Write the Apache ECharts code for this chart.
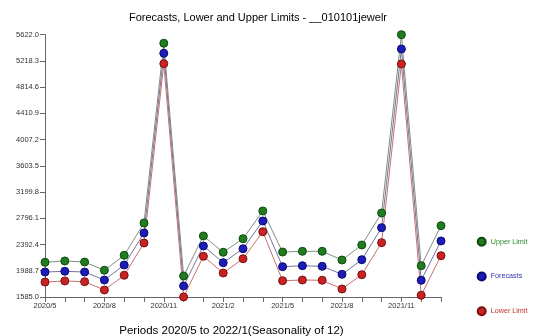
<!DOCTYPE html>
<html>
<head>
<meta charset="utf-8">
<script src="https://cdn.jsdelivr.net/npm/echarts@6/dist/echarts.min.js"></script>
<style>
  html, body { margin: 0; padding: 0; background: #fff; }
  #chart { width: 540px; height: 336px; }
</style>
</head>
<body>
<div id="chart"></div>
<script>
// Monthly periods, 2020/5 .. 2022/1
const periods = [
  '2020/5', '2020/6', '2020/7', '2020/8', '2020/9', '2020/10', '2020/11', '2020/12',
  '2021/1', '2021/2', '2021/3', '2021/4', '2021/5', '2021/6', '2021/7', '2021/8',
  '2021/9', '2021/10', '2021/11', '2021/12', '2022/1'
];

const upperLimit = [
  2118, 2138, 2122, 1995, 2226, 2723, 5490, 1907,
  2523, 2272, 2481, 2908, 2276, 2287, 2287, 2153,
  2384, 2877, 5622, 2065, 2681
];

const forecasts = [
  1968, 1979, 1968, 1845, 2076, 2569, 5336, 1753,
  2369, 2112, 2327, 2754, 2050, 2065, 2056, 1933,
  2158, 2651, 5402, 1841, 2446
];

const lowerLimit = [
  1814, 1830, 1819, 1691, 1918, 2415, 5176, 1585,
  2210, 1953, 2173, 2589, 1834, 1845, 1841, 1707,
  1927, 2420, 5171, 1610, 2219
];

// Value-axis tick positions (data min to data max in ten steps)
const yTicks = [1585.0, 1988.7, 2392.4, 2796.1, 3199.8, 3603.5, 4007.2, 4410.9, 4814.6, 5218.3, 5622.0];

const FONT = '"Liberation Sans", Arial, sans-serif';

function seriesOf(name, data, fill, border, lineColor) {
  return {
    name: name,
    type: 'line',
    data: data,
    symbol: 'circle',
    symbolSize: 8,
    itemStyle: { color: fill, borderColor: border, borderWidth: 1 },
    lineStyle: { color: lineColor, width: 1 },
    emphasis: { disabled: true },
    animation: false
  };
}

const chart = echarts.init(document.getElementById('chart'), null, { renderer: 'canvas' });

chart.setOption({
  backgroundColor: '#ffffff',
  title: [
    {
      text: 'Forecasts, Lower and Upper Limits - __010101jewelr',
      left: 253,
      textAlign: 'center',
      top: 7,
      textStyle: { fontFamily: FONT, fontSize: 11, fontWeight: 'normal', color: '#000' }
    },
    {
      text: 'Periods 2020/5 to 2022/1(Seasonality of 12)',
      left: 226.5,
      textAlign: 'center',
      top: 320,
      textStyle: { fontFamily: FONT, fontSize: 11.5, fontWeight: 'normal', color: '#000' }
    }
  ],
  legend: {
    orient: 'vertical',
    left: 476.7,
    top: 236.8,
    padding: 0,
    itemWidth: 8,
    itemHeight: 8,
    itemGap: 24.7,
    icon: 'circle',
    selectedMode: false,
    textStyle: { fontFamily: FONT, fontSize: 7.2 },
    data: [
      { name: 'Upper Limit', textStyle: { color: '#2f8a2f' } },
      { name: 'Forecasts', textStyle: { color: '#3030b0' } },
      { name: 'Lower Limit', textStyle: { color: '#c03030' } }
    ]
  },
  grid: { left: 45, right: 99, top: 34.7, bottom: 39.1, containLabel: false },
  xAxis: {
    type: 'category',
    data: periods,
    boundaryGap: false,
    axisLine: { lineStyle: { color: '#666', width: 1 } },
    axisTick: { show: true, interval: 0, length: 5, lineStyle: { color: '#666' } },
    axisLabel: { interval: 2, fontFamily: FONT, fontSize: 7.5, color: '#333', margin: 5 },
    splitLine: { show: false }
  },
  yAxis: {
    type: 'value',
    min: yTicks[0],
    max: yTicks[yTicks.length - 1],
    axisLine: { show: true, lineStyle: { color: '#666', width: 1 } },
    axisTick: { show: true, length: 5, customValues: yTicks, lineStyle: { color: '#666' } },
    axisLabel: {
      customValues: yTicks,
      formatter: function (v) { return Number(v).toFixed(1); },
      fontFamily: FONT, fontSize: 7.5, color: '#333', margin: 6
    },
    splitLine: { show: false }
  },
  series: [
    seriesOf('Upper Limit', upperLimit, '#1f7d1f', '#0f4a0f', '#7f8f7f'),
    seriesOf('Forecasts', forecasts, '#1c1cb8', '#0a0a70', '#7373a0'),
    seriesOf('Lower Limit', lowerLimit, '#c82222', '#7a1010', '#c87070')
  ]
});
</script>
</body>
</html>
